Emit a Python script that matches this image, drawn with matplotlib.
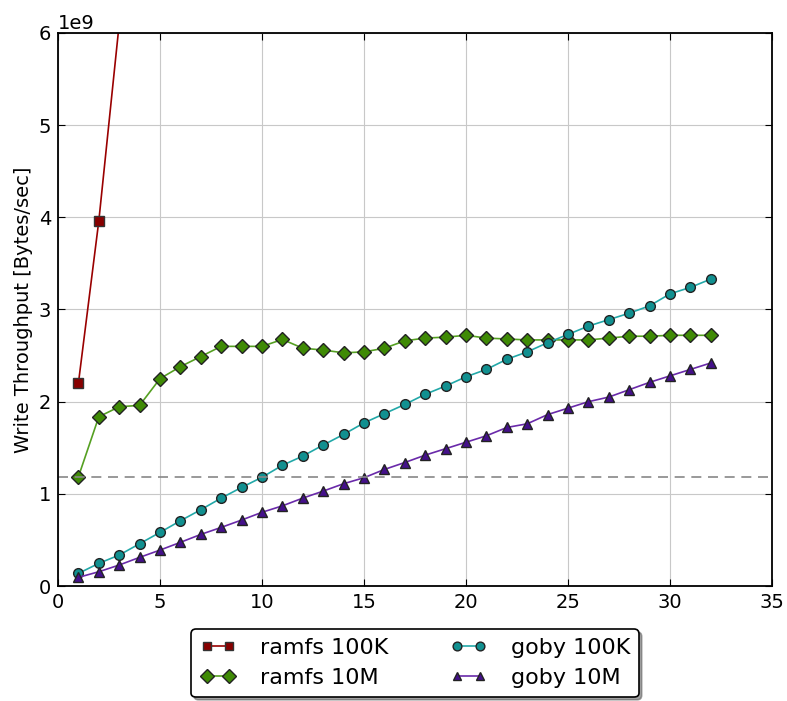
import matplotlib
matplotlib.use("Agg")
import matplotlib.pyplot as plt

# threads on the x axis
threads = list(range(1, 33))

# write throughput, bytes/sec (in units of 1e9)
ramfs_100k = [2.20, 3.96, 6.10]
ramfs_10m = [1.185, 1.836, 1.945, 1.96, 2.25, 2.38, 2.49, 2.60, 2.60, 2.60,
             2.675, 2.58, 2.56, 2.53, 2.54, 2.58, 2.66, 2.69, 2.70, 2.72,
             2.69, 2.68, 2.67, 2.67, 2.67, 2.67, 2.69, 2.71, 2.71, 2.72,
             2.72, 2.72]
goby_100k = [0.137, 0.246, 0.336, 0.459, 0.582, 0.708, 0.828, 0.954, 1.07, 1.18,
             1.31, 1.41, 1.53, 1.645, 1.77, 1.87, 1.97, 2.08, 2.17, 2.27,
             2.35, 2.46, 2.54, 2.64, 2.73, 2.82, 2.89, 2.96, 3.04, 3.17,
             3.24, 3.33]
goby_10m = [0.094, 0.155, 0.228, 0.311, 0.39, 0.474, 0.56, 0.636, 0.716, 0.80,
            0.87, 0.954, 1.03, 1.11, 1.175, 1.265, 1.34, 1.42, 1.49, 1.56,
            1.63, 1.72, 1.76, 1.86, 1.93, 2.00, 2.05, 2.13, 2.21, 2.28,
            2.35, 2.42]
baseline = 1.18

scale = 1e9

fig = plt.figure(figsize=(7.87, 7.01), dpi=100)
ax = fig.add_axes([0.0737, 0.164, 0.9073, 0.789])

ax.plot(threads[:len(ramfs_100k)], [v * scale for v in ramfs_100k], color="#990000",
        marker="s", markersize=6.5, markerfacecolor="#880000", markeredgecolor="#333333",
        lw=1.2, label="ramfs 100K")
ax.plot(threads, [v * scale for v in ramfs_10m], color="#55a022",
        marker="D", markersize=7.5, markerfacecolor="#3f8a05", markeredgecolor="#222222",
        lw=1.2, label="ramfs 10M")
ax.plot(threads, [v * scale for v in goby_100k], color="#22a8a8",
        marker="o", markersize=7, markerfacecolor="#119090", markeredgecolor="#222222",
        lw=1.2, label="goby 100K")
ax.plot(threads, [v * scale for v in goby_10m], color="#6a2aaa",
        marker="^", markersize=7, markerfacecolor="#44108a", markeredgecolor="#222222",
        lw=1.2, label="goby 10M")
ax.axhline(baseline * scale, color="#888888", ls="--", lw=1.2, dashes=(6, 4))

ax.set_xlim(0, 35)
ax.set_ylim(0, 6e9)
ax.set_ylabel("Write Throughput [Bytes/sec]", fontsize=14)
ax.grid(True, color="#c8c8c8", lw=0.8)
ax.set_axisbelow(True)
ax.tick_params(direction="in", top=True, right=True, labelsize=14, length=5, pad=5)
ax.yaxis.get_offset_text().set_fontsize(14)
for s in ax.spines.values():
    s.set_linewidth(1.3)

leg = ax.legend(loc="upper center", bbox_to_anchor=(0.5, -0.058), ncol=2,
                fontsize=16, shadow=True, fancybox=True, numpoints=2,
                handlelength=1.6, columnspacing=2.8, borderpad=0.4,
                handletextpad=1.1, labelspacing=0.45, markerscale=0.9)
leg.get_frame().set_edgecolor("black")
leg.get_frame().set_linewidth(1.2)

fig.savefig("out.png", dpi=100, facecolor="white")
